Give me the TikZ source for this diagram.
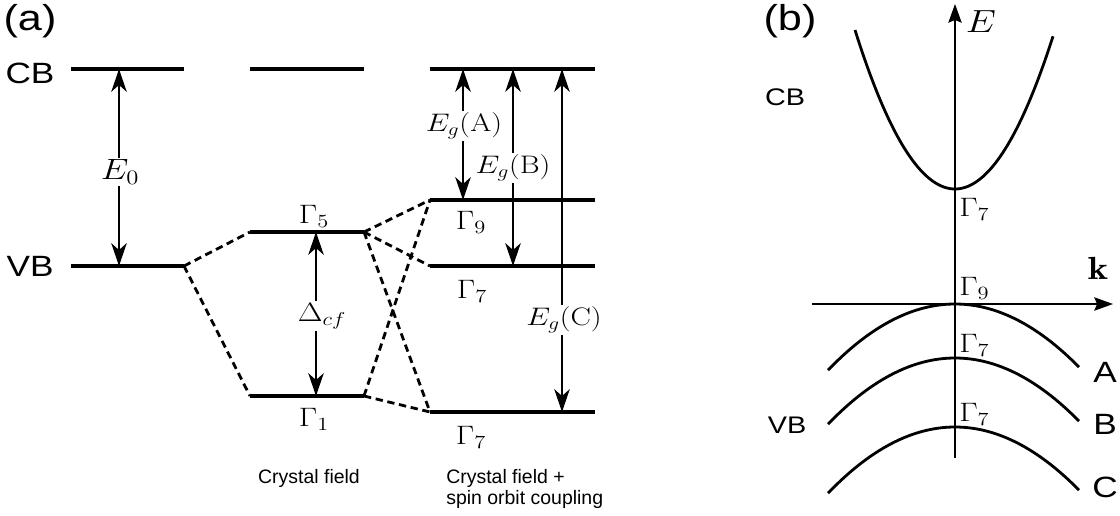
\RequirePackage{fix-cm}
\documentclass[tikz,border=0pt]{standalone}
\usepackage{fontspec}
\setsansfont{Liberation Sans}
\usepackage{graphicx}
\usetikzlibrary{arrows.meta}
\newcommand{\xs}[1]{\scalebox{1.2}[1]{#1}}
\begin{document}
\begin{tikzpicture}[x=0.75pt,y=-0.75pt,
  level/.style={line width=2.4pt},
  dashlink/.style={line width=2.1pt, dash pattern=on 5.5pt off 3.5pt},
  gaparrow/.style={line width=2.2pt, {Stealth[length=17pt,width=11.5pt,inset=5pt]}-{Stealth[length=17pt,width=11.5pt,inset=5pt]}},
  axis/.style={line width=1.1pt, -{Stealth[length=14pt,width=10pt,inset=2pt]}},
  band/.style={line width=2.1pt},
  panellab/.style={font=\sffamily\fontsize{27}{30}\selectfont, inner sep=0pt},
  bigsans/.style={font=\sffamily\fontsize{22}{26}\selectfont, inner sep=0pt},
  midsans/.style={font=\sffamily\fontsize{18}{22}\selectfont, inner sep=0pt},
  caption/.style={font=\sffamily\fontsize{14.6}{16.5}\selectfont, inner sep=0pt},
  gam/.style={font=\fontsize{20}{23}\selectfont, inner sep=0pt},
  mlab/.style={font=\fontsize{19}{22}\selectfont, fill=white, inner sep=1.5pt},
]
\useasboundingbox (0,0) rectangle (1120,515);

% ---------- panel (a) ----------
\node[panellab] (pa) at (30,21) {\xs{(a)}};
\node[bigsans] (cbA) at (30,73) {\xs{CB}};
\node[bigsans] (vbA) at (30,266) {\xs{VB}};

\coordinate (cb1l) at (71,69);  \coordinate (cb1r) at (184,69);
\coordinate (cb2l) at (250,69); \coordinate (cb2r) at (364,69);
\coordinate (cb3l) at (430,69); \coordinate (cb3r) at (595,69);
\coordinate (vbl) at (71,266);  \coordinate (vbr) at (184,266);
\coordinate (g5l) at (250,232); \coordinate (g5r) at (364,232);
\coordinate (g1l) at (250,396); \coordinate (g1r) at (364,396);
\coordinate (g9l) at (430,200); \coordinate (g9r) at (595,200);
\coordinate (g7al) at (430,266); \coordinate (g7ar) at (595,266);
\coordinate (g7bl) at (430,412); \coordinate (g7br) at (595,412);

\draw[level] (cb1l) -- (cb1r);
\draw[level] (cb2l) -- (cb2r);
\draw[level] (cb3l) -- (cb3r);
\draw[level] (vbl) -- (vbr);
\draw[level] (g5l) -- (g5r);
\draw[level] (g1l) -- (g1r);
\draw[level] (g9l) -- (g9r);
\draw[level] (g7al) -- (g7ar);
\draw[level] (g7bl) -- (g7br);

\draw[dashlink] (vbr) -- (g5l);
\draw[dashlink] (vbr) -- (g1l);
\draw[dashlink] (g5r) -- (g9l);
\draw[dashlink] (g5r) -- (g7al);
\draw[dashlink] (g5r) -- (g7bl);
\draw[dashlink] (g1r) -- (g9l);
\draw[dashlink] (g1r) -- (g7bl);

% gap arrows
\coordinate (e0t) at (119,69);  \coordinate (e0b) at (119,266);
\coordinate (dct) at (316,232); \coordinate (dcb) at (316,396);
\coordinate (eat) at (463,69);  \coordinate (eab) at (463,200);
\coordinate (ebt) at (513,69);  \coordinate (ebb) at (513,266);
\coordinate (ect) at (562,69);  \coordinate (ecb) at (562,412);
\draw[gaparrow] (e0t) -- (e0b);
\draw[gaparrow] (dct) -- (dcb);
\draw[gaparrow] (eat) -- (eab);
\draw[gaparrow] (ebt) -- (ebb);
\draw[gaparrow] (ect) -- (ecb);

\node[mlab, font=\fontsize{22}{26}\selectfont] (e0) at (120,172) {\xs{$E_0$}};
\node[mlab, font=\fontsize{20}{24}\selectfont] (dcf) at (322,316) {\xs{$\Delta_{cf}$}};
\node[mlab] (ega) at (464,126) {\xs{$E_g(\mathrm{A})$}};
\node[mlab] (egb) at (513,168) {\xs{$E_g(\mathrm{B})$}};
\node[mlab] (egc) at (564,320) {\xs{$E_g(\mathrm{C})$}};

\node[gam, anchor=base] (l5) at (314,223) {\xs{$\Gamma_5$}};
\node[gam, anchor=base] (l1) at (314,426) {\xs{$\Gamma_1$}};
\node[gam, anchor=base] (l9) at (471,229) {\xs{$\Gamma_9$}};
\node[gam, anchor=base] (l7a) at (472,298) {\xs{$\Gamma_7$}};
\node[gam, anchor=base] (l7b) at (471,444) {\xs{$\Gamma_7$}};

\node[caption, anchor=base] (cf1) at (309,483) {Crystal field};
\node[caption, anchor=base west] (cf2) at (446,483) {Crystal field +};
\node[caption, anchor=base west] (cf3) at (446,504) {spin orbit coupling};

% ---------- panel (b) ----------
\node[panellab] (pb) at (790,21) {\xs{(b)}};
\node[midsans] (cbB) at (785,97) {\xs{CB}};
\node[midsans] (vbB) at (787,425) {\xs{VB}};

\coordinate (eaxb) at (955,458); \coordinate (eaxt) at (955,4);
\coordinate (kaxl) at (812,304); \coordinate (kaxr) at (1113,304);
\draw[axis] (eaxb) -- (eaxt);
\draw[axis] (kaxl) -- (kaxr);
\node[font=\fontsize{24}{28}\selectfont, inner sep=0pt] (Elab) at (981,22) {\xs{$E$}};
\node[font=\fontsize{24}{28}\selectfont, inner sep=0pt, anchor=base] (klab) at (1098,279) {\xs{$\mathbf{k}$}};

\draw[band] plot[domain=-100:98, samples=80, smooth] ({955+\x},{189-0.0159*\x*\x});
\draw[band] plot[domain=-127:124, samples=80, smooth] ({955+\x},{304+0.0041*\x*\x});
\draw[band] plot[domain=-127:124, samples=80, smooth] ({955+\x},{358+0.0041*\x*\x});
\draw[band] plot[domain=-127:124, samples=80, smooth] ({955+\x},{427+0.0041*\x*\x});

\node[gam, anchor=base west] (m7c) at (959,216) {\xs{$\Gamma_7$}};
\node[gam, anchor=base west] (m9) at (959,295) {\xs{$\Gamma_9$}};
\node[gam, anchor=base west] (m7a) at (959,352) {\xs{$\Gamma_7$}};
\node[gam, anchor=base west] (m7b) at (959,421) {\xs{$\Gamma_7$}};

\node[bigsans] (bA) at (1105,372) {\xs{A}};
\node[bigsans] (bB) at (1105,424) {\xs{B}};
\node[bigsans] (bC) at (1105,487) {\xs{C}};
\end{tikzpicture}
\end{document}
